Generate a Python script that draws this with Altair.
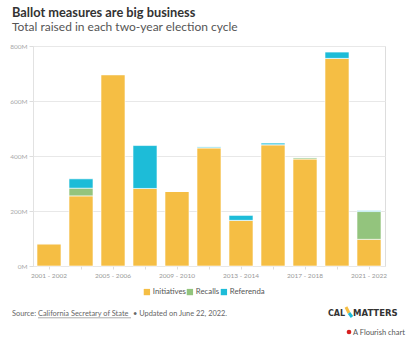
import json
import altair as alt
import pandas as pd

FONT = "Lato"

cycles = ["2001 - 2002", "2003 - 2004", "2005 - 2006", "2007 - 2008", "2009 - 2010",
          "2011 - 2012", "2013 - 2014", "2015 - 2016", "2017 - 2018", "2019 - 2020",
          "2021 - 2022"]
initiatives = [81, 255, 696, 282, 271, 430, 166, 441, 389, 755, 97]
recalls = [0, 28, 0, 0, 0, 0, 0, 0, 5, 0, 101]
referenda = [0, 34, 0, 156, 0, 3, 18, 6, 0, 23, 3]
series = ["Initiatives", "Recalls", "Referenda"]
colors = ["#F5BE44", "#93C47D", "#1DBCD8"]
y_ticks = [0, 200, 400, 600, 800]
shown_labels = cycles[::2]

rows = []
for i, c in enumerate(cycles):
    for k, (name, vals) in enumerate(zip(series, [initiatives, recalls, referenda])):
        rows.append({"cycle": c, "series": name, "value": vals[i], "order": k})
df = pd.DataFrame(rows)

x_label_expr = "indexof(" + json.dumps(shown_labels) + ", datum.label) >= 0 ? datum.label : ''"

bars = alt.Chart(df).mark_bar(stroke="white", strokeWidth=0.6).encode(
    x=alt.X("cycle:N", sort=cycles,
            scale=alt.Scale(paddingInner=0.25, paddingOuter=0.125),
            axis=alt.Axis(title=None, labelAngle=0, labelExpr=x_label_expr,
                          labelFontSize=6.5, labelColor="#999", labelFont=FONT,
                          tickColor="#ddd", tickSize=3, domain=False, labelPadding=3)),
    y=alt.Y("value:Q", stack="zero",
            scale=alt.Scale(domain=[0, 800], nice=False),
            axis=alt.Axis(title=None, values=y_ticks, labelExpr="datum.value + 'M'",
                          grid=True, gridColor="#e8e8e8", domainColor="#e2e2e2",
                          tickColor="#ddd", tickSize=4, labelColor="#aaa",
                          labelFontSize=6.5, labelFont=FONT, labelPadding=2)),
    color=alt.Color("series:N", scale=alt.Scale(domain=series, range=colors),
                    legend=alt.Legend(title=None, orient="none", legendX=110, legendY=242,
                                      direction="horizontal", symbolType="square",
                                      symbolSize=40, symbolStrokeWidth=0,
                                      labelFontSize=7.8, labelColor="#555", labelFont=FONT,
                                      columnPadding=0, labelOffset=2)),
    order=alt.Order("order:Q"),
)


def txt(s, x, y, size, color="#555", weight="normal", font=FONT, align="left"):
    return alt.Chart(pd.DataFrame({"t": [s]})).mark_text(
        align=align, baseline="alphabetic", fontSize=size, fontWeight=weight,
        color=color, font=font
    ).encode(x=alt.value(x), y=alt.value(y), text="t:N")


OX, OY = 33, 46
title = txt("Ballot measures are big business", 12 - OX, 16.5 - OY, 12.8, "#333", "bold")
subtitle = txt("Total raised in each two-year election cycle", 12 - OX, 31 - OY, 12, "#555")
src1 = txt("Source:", 12 - OX, 316 - OY, 7.4, "#666")
src2 = txt("California Secretary of State", 38 - OX, 316 - OY, 7.4, "#666")
src3 = txt("\u2022 Updated on June 22, 2022.", 133 - OX, 316 - OY, 7.4, "#666")
underline = alt.Chart(pd.DataFrame({"a": [0]})).mark_rule(color="#888", strokeWidth=0.7).encode(
    x=alt.value(38 - OX), x2=alt.value(131 - OX), y=alt.value(317.8 - OY))
cal = txt("CAL", 328 - OX, 316 - OY, 8, "#333", "bold", "DejaVu Sans")
matters = txt("MATTERS", 353 - OX, 316 - OY, 8.5, "#333", "bold", "DejaVu Sans")
logo1 = alt.Chart(pd.DataFrame({"a": [0]})).mark_rule(color="#F5BE44", strokeWidth=3).encode(
    x=alt.value(346 - OX), x2=alt.value(349 - OX), y=alt.value(307 - OY), y2=alt.value(313 - OY))
logo2 = alt.Chart(pd.DataFrame({"a": [0]})).mark_rule(color="#1DBCD8", strokeWidth=3).encode(
    x=alt.value(349 - OX), x2=alt.value(352 - OX), y=alt.value(313 - OY), y2=alt.value(317 - OY))
dot = alt.Chart(pd.DataFrame({"a": [0]})).mark_point(filled=True, color="#d62020", size=22, opacity=1).encode(
    x=alt.value(349 - OX), y=alt.value(332 - OY))
flourish = txt("A Flourish chart", 353 - OX, 334.5 - OY, 7.5, "#555")

chart = alt.layer(bars, title, subtitle, src1, src2, src3, underline, cal, matters,
                  logo1, logo2, dot, flourish).properties(
    width=352, height=220,
    autosize=alt.AutoSizeParams(type="none"),
    padding={"left": 33, "top": 46, "right": 27, "bottom": 75},
).configure_view(stroke=None).configure(background="white")

chart.save("out.html", embed_options={"renderer": "svg", "actions": False})
